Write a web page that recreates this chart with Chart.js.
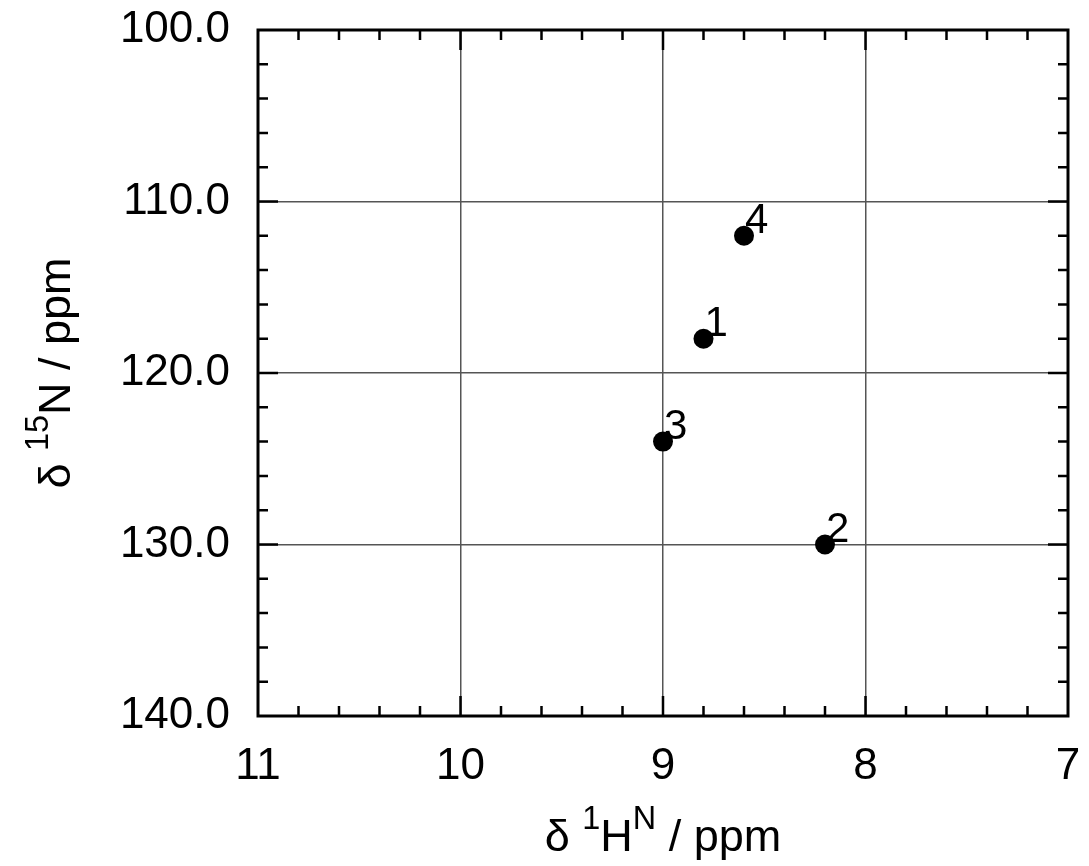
<!DOCTYPE html>
<html>
<head>
<meta charset="utf-8">
<script src="https://cdn.jsdelivr.net/npm/chart.js@4"></script>
<style>
  html, body { margin: 0; padding: 0; background: #fff; }
</style>
</head>
<body>
<canvas id="nmr" width="1089" height="866"></canvas>
<script>
// picos do espectro HSQC (1H / 15N)
const peakLabels = ['1', '2', '3', '4'];
const hShift = [8.8, 8.2, 9.0, 8.6];
const nShift = [118.0, 130.0, 124.0, 112.0];

const xTickValues = [11, 10, 9, 8, 7];
const yTickValues = [100, 110, 120, 130, 140];

const FONT = "'Liberation Sans', Arial, sans-serif";

// ticks menores para dentro nos quatro lados + moldura
const moldura = {
    id: 'moldura',
    afterDraw(chart) {
        const ctx = chart.ctx;
        const a = chart.chartArea;
        const xs = chart.scales.x, ys = chart.scales.y;
        ctx.save();
        ctx.strokeStyle = '#000';
        ctx.lineWidth = 2.5;
        ctx.beginPath();
        // eixo x: passo 0.2
        const nx = Math.round((xs.max - xs.min) / 0.2);
        for (let i = 1; i < nx; i++) {
            const v = xs.min + i * 0.2;
            const major = Math.abs(v - Math.round(v)) < 1e-6;
            const len = major ? 20 : 10;
            const px = xs.getPixelForValue(v);
            ctx.moveTo(px, a.bottom); ctx.lineTo(px, a.bottom - len);
            ctx.moveTo(px, a.top); ctx.lineTo(px, a.top + len);
        }
        // eixo y: passo 2
        const ny = Math.round((ys.max - ys.min) / 2);
        for (let i = 1; i < ny; i++) {
            const v = ys.min + i * 2;
            const major = v % 10 === 0;
            const len = major ? 20 : 10;
            const py = ys.getPixelForValue(v);
            ctx.moveTo(a.left, py); ctx.lineTo(a.left + len, py);
            ctx.moveTo(a.right, py); ctx.lineTo(a.right - len, py);
        }
        ctx.stroke();
        ctx.lineWidth = 3;
        ctx.strokeRect(a.left, a.top, a.right - a.left, a.bottom - a.top);
        ctx.restore();
    }
};

// rótulos dos picos
const rotulos = {
    id: 'rotulos',
    afterDatasetsDraw(chart) {
        const ctx = chart.ctx;
        const meta = chart.getDatasetMeta(0);
        ctx.save();
        ctx.fillStyle = '#000';
        ctx.font = '42px ' + FONT;
        ctx.textAlign = 'left';
        ctx.textBaseline = 'alphabetic';
        meta.data.forEach((pt, i) => {
            ctx.fillText(peakLabels[i], pt.x + 1, pt.y - 3);
        });
        ctx.restore();
    }
};

// texto com sobrescritos: partes [texto, sobrescrito?]
function drawRich(ctx, parts, size) {
    let w = 0;
    parts.forEach(p => {
        ctx.font = (p[1] ? size * 0.72 : size) + 'px ' + FONT;
        w += ctx.measureText(p[0]).width;
    });
    let x = -w / 2;
    parts.forEach(p => {
        ctx.font = (p[1] ? size * 0.72 : size) + 'px ' + FONT;
        ctx.fillText(p[0], x, p[1] ? -size * 0.5 : 0);
        x += ctx.measureText(p[0]).width;
    });
}

const titulos = {
    id: 'titulos',
    afterDraw(chart) {
        const ctx = chart.ctx;
        const a = chart.chartArea;
        ctx.save();
        ctx.fillStyle = '#000';
        ctx.textAlign = 'left';
        ctx.textBaseline = 'alphabetic';
        ctx.translate((a.left + a.right) / 2, 851);
        drawRich(ctx, [['δ ', false], ['1', true], ['H', false], ['N', true], [' / ppm', false]], 45);
        ctx.restore();

        ctx.save();
        ctx.fillStyle = '#000';
        ctx.textAlign = 'left';
        ctx.textBaseline = 'alphabetic';
        ctx.translate(70, (a.top + a.bottom) / 2);
        ctx.rotate(-Math.PI / 2);
        drawRich(ctx, [['δ ', false], ['15', true], ['N / ppm', false]], 45);
        ctx.restore();
    }
};

function semPadding(s) {
    s.paddingTop = 0; s.paddingBottom = 0;
    s.paddingLeft = 0; s.paddingRight = 0;
}

new Chart(document.getElementById('nmr'), {
    type: 'scatter',
    data: {
        datasets: [{
            data: hShift.map((h, i) => ({ x: h, y: nShift[i] })),
            backgroundColor: '#000',
            borderWidth: 0,
            pointRadius: 10,
            pointHoverRadius: 10
        }]
    },
    options: {
        responsive: false,
        animation: false,
        layout: { padding: { top: 30, right: 21, left: 0, bottom: 0 } },
        plugins: {
            legend: { display: false },
            tooltip: { enabled: false }
        },
        scales: {
            x: {
                type: 'linear',
                reverse: true,
                min: 7,
                max: 11,
                afterBuildTicks: s => { s.ticks = xTickValues.map(v => ({ value: v })); },
                afterFit: s => { s.height = 150; semPadding(s); },
                grid: { color: '#555', lineWidth: 1.5, drawTicks: false },
                border: { display: false },
                ticks: {
                    color: '#000',
                    padding: 24,
                    maxRotation: 0,
                    font: { family: FONT, size: 44 },
                    callback: v => String(v)
                }
            },
            y: {
                type: 'linear',
                reverse: true,
                min: 100,
                max: 140,
                afterBuildTicks: s => { s.ticks = yTickValues.map(v => ({ value: v })); },
                afterFit: s => { s.width = 258; semPadding(s); },
                grid: { color: '#555', lineWidth: 1.5, drawTicks: false },
                border: { display: false },
                ticks: {
                    color: '#000',
                    padding: 28,
                    font: { family: FONT, size: 44 },
                    callback: v => v.toFixed(1)
                }
            }
        }
    },
    plugins: [moldura, rotulos, titulos]
});
</script>
</body>
</html>
